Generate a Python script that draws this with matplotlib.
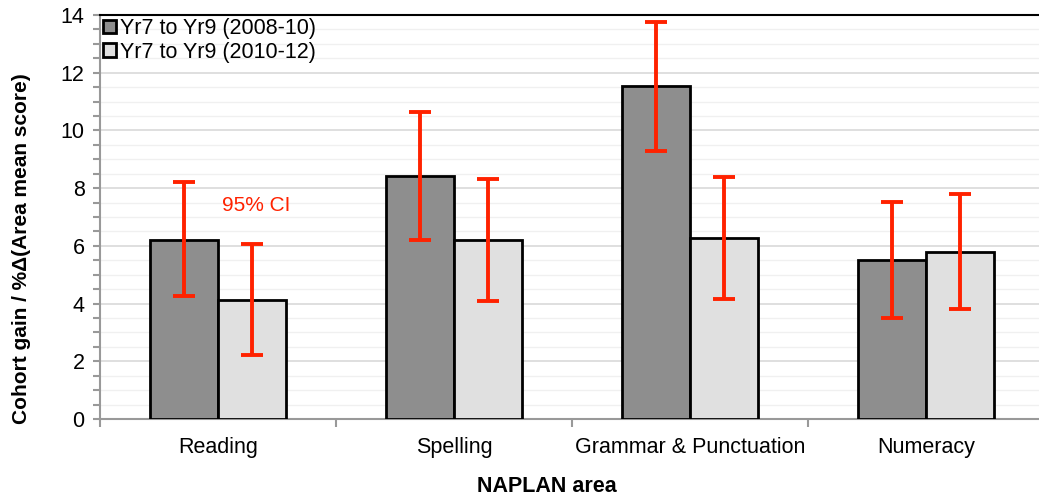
import numpy as np
import matplotlib.pyplot as plt
from matplotlib.ticker import MultipleLocator, FixedLocator

plt.rcParams['font.family'] = ['Liberation Sans', 'DejaVu Sans']

# data
areas = ["Reading", "Spelling", "Grammar & Punctuation", "Numeracy"]
series_names = ["Yr7 to Yr9 (2008-10)", "Yr7 to Yr9 (2010-12)"]
gain_0810 = [6.2, 8.42, 11.55, 5.5]
low_0810 = [4.25, 6.2, 9.3, 3.5]
high_0810 = [8.2, 10.65, 13.75, 7.52]
gain_1012 = [4.12, 6.22, 6.27, 5.78]
low_1012 = [2.22, 4.1, 4.15, 3.8]
high_1012 = [6.05, 8.33, 8.38, 7.8]

W, H = 1039, 499
fig = plt.figure(figsize=(W/100, H/100), dpi=100)
ax = fig.add_axes([100/W, 80/H, 944/W, 404/H])

x = np.arange(len(areas))
w = 0.288
red = '#ff2200'

def draw(offset, vals, lo, hi, colour, label):
    vals = np.array(vals)
    yerr = [vals - np.array(lo), np.array(hi) - vals]
    ax.bar(x + offset, vals, w, color=colour, edgecolor='black', linewidth=2.0,
           label=label, zorder=3)
    ax.errorbar(x + offset, vals, yerr=yerr, fmt='none', ecolor=red,
                elinewidth=2.8, capsize=8, capthick=2.8, zorder=4)

draw(-w/2, gain_0810, low_0810, high_0810, '#8e8e8e', series_names[0])
draw(w/2, gain_1012, low_1012, high_1012, '#e0e0e0', series_names[1])

ax.set_xlim(-0.5, len(areas) - 0.5)
ax.set_ylim(0, 14)
ax.yaxis.set_major_locator(MultipleLocator(2))
ax.yaxis.set_minor_locator(MultipleLocator(0.5))
ax.grid(axis='y', which='major', color='#d9d9d9', linewidth=1.2, zorder=0)
ax.grid(axis='y', which='minor', color='#f0f0f0', linewidth=1.0, zorder=0)
ax.set_axisbelow(True)

ax.set_xticks(x)
ax.set_xticklabels(areas, fontsize=15.5)
ax.xaxis.set_minor_locator(FixedLocator(np.arange(-0.5, len(areas), 1.0)))
ax.tick_params(axis='x', which='major', length=0, pad=13)
ax.tick_params(axis='x', which='minor', length=6, width=1.5, color='#999999')
ax.tick_params(axis='y', which='both', length=5, width=1.5, color='#999999',
               labelsize=15.5, pad=6)

for side in ['left', 'bottom']:
    ax.spines[side].set_color('#999999')
    ax.spines[side].set_linewidth(1.5)
ax.spines['top'].set_color('black')
ax.spines['top'].set_linewidth(1.5)
ax.spines['right'].set_visible(False)

# axis titles placed where the reference has them (not centred on the axes)
fig.text(22/W, 1 - 249/H, "Cohort gain / %Δ(Area mean score)", fontsize=15,
         fontweight='bold', rotation=90, ha='center', va='center')
fig.text(547/W, 1 - 487/H, "NAPLAN area", fontsize=15.5, fontweight='bold',
         ha='center', va='center')

ax.text(0.16, 7.4, "95% CI", color=red, fontsize=15, ha='center', va='center')

ax.legend(loc='upper left', frameon=False, fontsize=15.5, handlelength=0.6,
          handleheight=0.6, handletextpad=0.2, labelspacing=0.12,
          borderaxespad=0.0, borderpad=0.15)

fig.savefig("out.png", dpi=100)
